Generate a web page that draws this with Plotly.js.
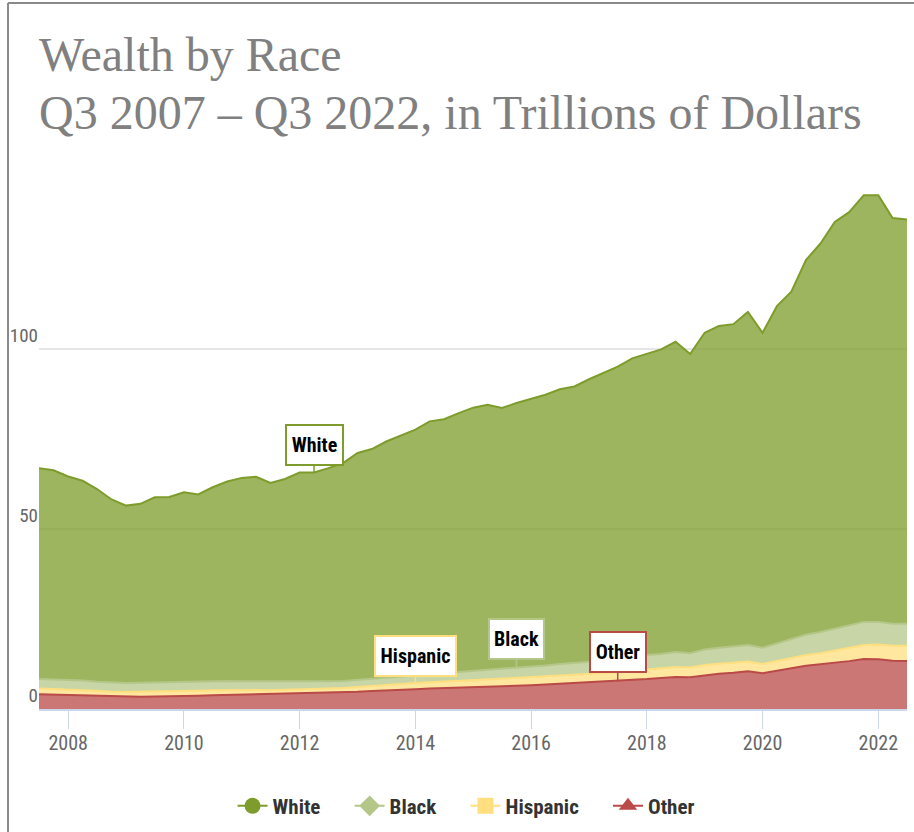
<!DOCTYPE html>
<html>
<head>
<meta charset="utf-8">
<script src="https://cdn.plot.ly/plotly-3.0.1.min.js"></script>
<style>
  html, body { margin: 0; padding: 0; background: #ffffff; }
  #chart { width: 914px; height: 832px; }
</style>
</head>
<body>
<div id="chart"></div>
<script>
// ---- Data (trillions of dollars), Q3 2007 .. Q3 2022 ----
const quarterDates = [
  '2007-07-01','2007-10-01',
  '2008-01-01','2008-04-01','2008-07-01','2008-10-01',
  '2009-01-01','2009-04-01','2009-07-01','2009-10-01',
  '2010-01-01','2010-04-01','2010-07-01','2010-10-01',
  '2011-01-01','2011-04-01','2011-07-01','2011-10-01',
  '2012-01-01','2012-04-01','2012-07-01','2012-10-01',
  '2013-01-01','2013-04-01','2013-07-01','2013-10-01',
  '2014-01-01','2014-04-01','2014-07-01','2014-10-01',
  '2015-01-01','2015-04-01','2015-07-01','2015-10-01',
  '2016-01-01','2016-04-01','2016-07-01','2016-10-01',
  '2017-01-01','2017-04-01','2017-07-01','2017-10-01',
  '2018-01-01','2018-04-01','2018-07-01','2018-10-01',
  '2019-01-01','2019-04-01','2019-07-01','2019-10-01',
  '2020-01-01','2020-04-01','2020-07-01','2020-10-01',
  '2021-01-01','2021-04-01','2021-07-01','2021-10-01',
  '2022-01-01','2022-04-01','2022-07-01'
];

const whiteWealth = [
  58.6,58.1,56.6,55.5,53.5,50.9,49.3,49.7,51.4,51.5,
  52.7,52.0,53.9,55.4,56.5,56.8,55.3,56.3,58.2,58.0,
  59.2,60.5,63.0,63.8,65.7,66.9,68.3,70.3,70.6,71.9,
  73.1,73.7,72.6,73.6,74.4,75.2,76.3,76.8,78.4,79.9,
  81.2,82.9,83.6,84.6,86.2,83.1,88.0,89.4,89.5,92.5,
  87.5,93.7,96.6,104.1,107.9,113.0,114.8,118.5,118.5,112.7,112.3
];
const blackWealth = [
  2.6,2.6,2.6,2.6,2.5,2.5,2.5,2.5,2.5,2.5,
  2.5,2.5,2.5,2.5,2.4,2.4,2.3,2.3,2.2,2.2,
  2.1,2.0,2.0,2.0,2.0,2.1,2.1,2.2,2.3,2.4,
  2.5,2.6,2.7,2.9,3.0,3.1,3.2,3.3,3.4,3.5,
  3.7,3.9,4.0,4.0,4.1,4.0,4.3,4.4,4.5,4.6,
  4.5,4.8,5.2,5.6,5.9,6.1,6.3,6.4,6.3,6.1,6.1
];
const hispanicWealth = [
  1.6,1.6,1.5,1.5,1.5,1.4,1.4,1.4,1.4,1.4,
  1.4,1.4,1.4,1.4,1.3,1.3,1.2,1.2,1.1,1.1,
  1.1,1.2,1.3,1.4,1.5,1.6,1.7,1.7,1.8,1.9,
  2.0,2.0,2.0,2.1,2.1,2.2,2.3,2.3,2.4,2.4,
  2.5,2.6,2.7,2.7,2.8,2.7,2.8,2.8,2.8,2.7,
  2.6,2.7,2.8,3.0,3.1,3.3,3.6,3.9,4.1,4.2,4.3
];
const otherWealth = [
  4.1,4.0,3.9,3.8,3.6,3.4,3.3,3.4,3.5,3.5,
  3.6,3.7,3.8,3.9,4.0,4.0,4.0,4.1,4.2,4.4,
  4.5,4.6,4.8,5.0,5.1,5.3,5.5,5.7,5.8,6.0,
  6.1,6.2,6.3,6.4,6.6,6.8,7.0,7.2,7.4,7.5,
  7.7,8.0,8.3,8.6,8.9,8.8,9.4,9.8,10.1,10.5,
  9.9,10.7,11.3,12.0,12.4,12.9,13.3,13.9,13.8,13.4,13.3
];

const seriesNames = ['White', 'Black', 'Hispanic', 'Other'];
const yTickVals = [0, 50, 100];
const xTickLabelFormat = '%Y';
const chartTitle = 'Wealth by Race';
const chartSubtitle = 'Q3 2007 \u2013 Q3 2022, in Trillions of Dollars';
// index of the quarter each series label points to
const labelIndex = { White: 19, Hispanic: 26, Black: 33, Other: 40 };

// ---- Styles ----
const colors = {
  White:    { line: '#7e9c2b', fill: 'rgba(126,156,43,0.75)' },
  Black:    { line: '#b5c788', fill: 'rgba(181,199,136,0.75)' },
  Hispanic: { line: '#ffdf80', fill: 'rgba(255,223,128,0.75)' },
  Other:    { line: '#b94a48', fill: 'rgba(185,74,72,0.75)' }
};

// pick a narrow sans font if one is installed
function pickNarrowFont() {
  const ctx = document.createElement('canvas').getContext('2d');
  const s = 'WwMmIiHhispanic 0123456789';
  const w = f => { ctx.font = f; return ctx.measureText(s).width; };
  for (const n of ['Liberation Sans Narrow', 'Arial Narrow', 'Roboto Condensed']) {
    if (w(`20px "${n}", monospace`) !== w('20px monospace') ||
        w(`20px "${n}", serif`) !== w('20px serif')) {
      return { family: `"${n}", "Liberation Sans", Arial, sans-serif`, scale: 1, css: '' };
    }
  }
  for (const n of ['Noto Sans', 'Roboto', 'Open Sans']) {
    ctx.font = `bold 20px "${n}"`;
    ctx.fontStretch = 'normal';
    const a = ctx.measureText(s).width;
    ctx.fontStretch = 'condensed';
    const b = ctx.measureText(s).width;
    ctx.fontStretch = 'normal';
    if (b < a * 0.93) {
      return { family: `"${n}", sans-serif`, scale: 0.98, css: 'condensed' };
    }
  }
  return { family: '"Liberation Sans", Arial, sans-serif', scale: 0.88, css: '' };
}
const nf = pickNarrowFont();
if (nf.css) {
  const st = document.createElement('style');
  st.textContent = '#chart text { font-stretch: ' + nf.css + ' !important; }';
  document.head.appendChild(st);
}
const narrow = nf.family;
const fs = v => Math.round(v * nf.scale * 10) / 10;
const serif = '"Liberation Serif", "Times New Roman", serif';

const valuesByName = {
  White: whiteWealth, Black: blackWealth, Hispanic: hispanicWealth, Other: otherWealth
};

// stacked area traces: bottom first
const stackOrder = ['Other', 'Hispanic', 'Black', 'White'];
const traces = stackOrder.map(name => ({
  type: 'scatter',
  mode: 'lines',
  name: name,
  x: quarterDates,
  y: valuesByName[name],
  stackgroup: 'wealth',
  line: { color: colors[name].line, width: 2, shape: 'linear' },
  fillcolor: colors[name].fill,
  showlegend: false,
  hoverinfo: 'skip'
}));

// legend entries
const symbols = { White: 'circle', Black: 'diamond', Hispanic: 'square', Other: 'triangle-up' };
const nb = '\u00a0\u00a0\u00a0\u00a0\u00a0';
seriesNames.forEach((name, k) => {
  traces.push({
    type: 'scatter',
    mode: 'lines+markers',
    name: name + (k < seriesNames.length - 1 ? nb : ''),
    x: [null], y: [null],
    line: { color: colors[name].line, width: 2 },
    marker: { color: colors[name].line, symbol: symbols[name], size: 16 },
    showlegend: true,
    hoverinfo: 'skip'
  });
});

// cumulative heights for label anchors
function stackTop(name, i) {
  let s = 0;
  for (const n of stackOrder) {
    s += valuesByName[n][i];
    if (n === name) break;
  }
  return s;
}
const labelBox = {
  White:    { w: 53, ay: -27.5 },
  Hispanic: { w: 77, ay: -27 },
  Black:    { w: 51, ay: -29 },
  Other:    { w: 52, ay: -29 }
};
const annotations = Object.keys(labelIndex).map(name => {
  const i = labelIndex[name];
  return {
    x: quarterDates[i], y: stackTop(name, i), xref: 'x', yref: 'y',
    text: name,
    showarrow: true, arrowhead: 0, arrowwidth: 1.5, arrowcolor: colors[name].line,
    ax: 0, ay: labelBox[name].ay,
    bgcolor: '#ffffff', bordercolor: colors[name].line, borderwidth: 2, borderpad: 1,
    width: labelBox[name].w, height: 36,
    font: { family: narrow, size: fs(20), color: '#000000', weight: 'bold' }
  };
});

// titles
annotations.push({
  xref: 'paper', yref: 'paper', x: -0.002, y: 1.1585, xanchor: 'left', yanchor: 'bottom',
  text: chartTitle, showarrow: false,
  font: { family: serif, size: 48, color: '#808080' }
});
annotations.push({
  xref: 'paper', yref: 'paper', x: -0.002, y: 1.0515, xanchor: 'left', yanchor: 'bottom',
  text: chartSubtitle, showarrow: false,
  font: { family: serif, size: 48, color: '#808080' }
});

const layout = {
  width: 914, height: 832,
  margin: { l: 39, r: 7, t: 169, b: 123, pad: 0, autoexpand: false },
  paper_bgcolor: '#ffffff', plot_bgcolor: '#ffffff',
  showlegend: true,
  hovermode: false,
  xaxis: {
    type: 'date',
    range: [quarterDates[0], quarterDates[quarterDates.length - 1]],
    tick0: '2008-01-01', dtick: 'M24', tickformat: xTickLabelFormat,
    ticks: 'outside', ticklen: 18, tickwidth: 1, tickcolor: '#ccd6eb',
    ticklabelstandoff: -3,
    showline: true, linecolor: '#ccd6eb', linewidth: 2,
    showgrid: false, zeroline: false, automargin: false,
    tickfont: { family: narrow, size: fs(20), color: '#666666' }
  },
  yaxis: {
    range: [0, 150],
    tickmode: 'array', tickvals: yTickVals, ticktext: yTickVals.map(String),
    ticklabelposition: 'outside top',
    showgrid: true, gridcolor: '#e6e6e6', gridwidth: 1.5,
    zeroline: false, showline: false, ticks: '', automargin: false,
    tickfont: { family: narrow, size: fs(19), color: '#666666' }
  },
  legend: {
    orientation: 'h', traceorder: 'normal',
    x: 0.492, xanchor: 'center', y: -0.18, yanchor: 'middle',
    font: { family: narrow, size: fs(21), color: '#333333', weight: 'bold' },
    itemclick: false, itemdoubleclick: false
  },
  annotations: annotations,
  shapes: [
    { type: 'line', xref: 'paper', yref: 'paper', x0: -0.0357, x1: -0.0357, y0: 1.3074, y1: -0.26,
      line: { color: '#8a8a8a', width: 2 } },
    { type: 'line', xref: 'paper', yref: 'paper', x0: -0.0357, x1: 1.02, y0: 1.3074, y1: 1.3074,
      line: { color: '#8a8a8a', width: 2 } }
  ]
};

Plotly.newPlot('chart', traces, layout, { displayModeBar: false, staticPlot: true });
</script>
</body>
</html>
